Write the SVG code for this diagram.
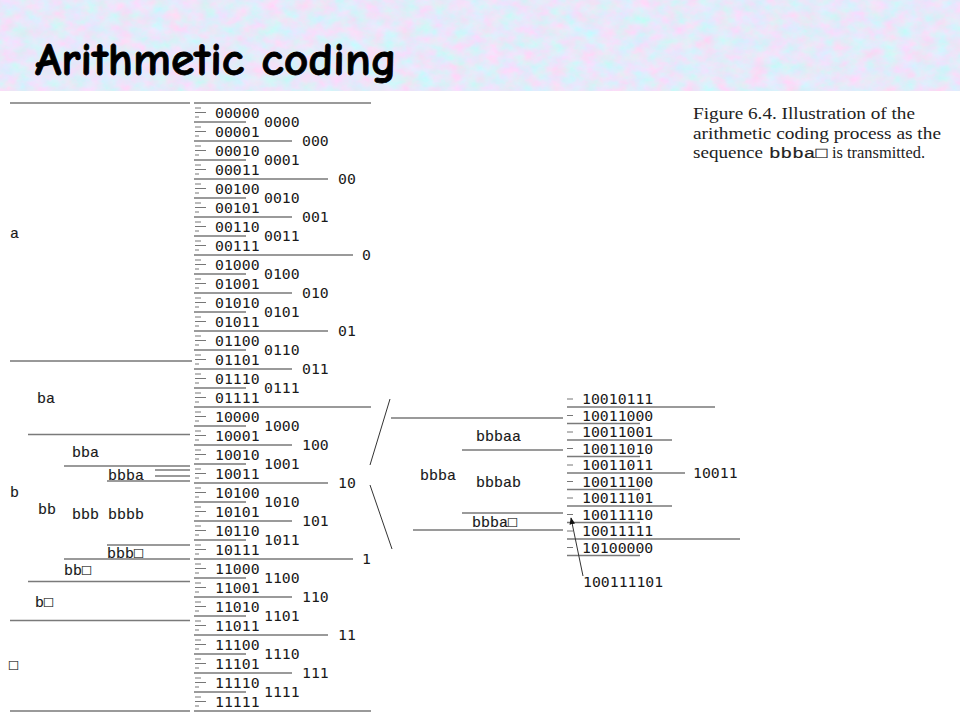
<svg xmlns="http://www.w3.org/2000/svg" xmlns:xlink="http://www.w3.org/1999/xlink" width="960" height="720" viewBox="0 0 960 720">
<style>
.ln{stroke:#7a7a7a;stroke-width:1.5;fill:none}
.dk{stroke:#333;stroke-width:1;fill:none}
.tk{stroke:#777;stroke-width:1;fill:none}
.d{font-family:"DejaVu Sans Mono",monospace;font-size:14.8px;fill:#1a1a1a}
.l{font-family:"Liberation Mono","DejaVu Sans Mono",monospace;font-size:15px;fill:#1a1a1a;stroke:#1a1a1a;stroke-width:0.15}
.cap{font-family:"Liberation Serif",serif;font-size:17px;fill:#222}
.capm{font-family:"Liberation Mono","DejaVu Sans Mono",monospace;font-size:15.5px;fill:#222;stroke:#222;stroke-width:0.2}
.title{font-family:"Comic Sans MS","Comic Neue","DejaVu Sans",sans-serif;font-weight:bold;font-size:46px;fill:#000;stroke:#000;stroke-width:0.8}
</style>
<defs>
<filter id="tex" x="0" y="0" width="100%" height="100%">
<feTurbulence type="fractalNoise" baseFrequency="0.06 0.08" numOctaves="4" seed="7"/>
<feColorMatrix type="matrix" values="0.6 0 0 0 0.49  -0.35 0.1 0 0 0.94  0 0 0.15 0 0.875  0 0 0 0 1"/>
</filter>
<path id="tk" d="M195 -4.5h6M195 0h11M195 4.5h4"/>
<marker id="ah" viewBox="0 0 10 10" refX="9" refY="5" markerWidth="7" markerHeight="7" orient="auto">
<path d="M0 1L10 5L0 9z" fill="#111"/>
</marker>
</defs>
<rect width="960" height="720" fill="#fff"/>
<g id="titlebar">
<rect width="960" height="91" fill="#c8d8f2"/>
<rect width="960" height="91" filter="url(#tex)"/>
<text class="title" x="35" y="75" textLength="362" lengthAdjust="spacingAndGlyphs">Arithmetic coding</text>
</g>
<g id="caption">
<text class="cap" x="693" y="119" textLength="222" lengthAdjust="spacingAndGlyphs">Figure 6.4. Illustration of the</text>
<text class="cap" x="693" y="139" textLength="248" lengthAdjust="spacingAndGlyphs">arithmetic coding process as the</text>
<text class="cap" x="693" y="158" textLength="70" lengthAdjust="spacingAndGlyphs">sequence</text>
<text class="capm" x="769" y="158" textLength="58" lengthAdjust="spacingAndGlyphs">bbba□</text>
<text class="cap" x="832" y="158" textLength="93" lengthAdjust="spacingAndGlyphs">is transmitted.</text>
</g>
<g id="left-intervals">
<path class="ln" d="M10 103H190M28 434.5H190M64 466H190M155 470H190M155 476H190M107 481H190M107 545H190M64 559H190M28 581.5H190M10 620.5H190M10 711H190"/>
<path class="dk" d="M10 361H192"/>
<text class="l" x="10" y="238">a</text>
<text class="l" x="37" y="403">ba</text>
<text class="l" x="72" y="456.5">bba</text>
<text class="l" x="108" y="480">bbba</text>
<text class="l" x="10" y="496.5">b</text>
<text class="l" x="38" y="514">bb</text>
<text class="l" x="72" y="519">bbb</text>
<text class="l" x="108" y="519">bbbb</text>
<text class="l" x="107" y="558">bbb□</text>
<text class="l" x="64" y="575">bb□</text>
<text class="l" x="35" y="606.5">b□</text>
<text class="l" x="9" y="670">□</text>
</g>
<g id="binary-column">
<g class="tk">
<use href="#tk" y="112.5"/><use href="#tk" y="131.5"/><use href="#tk" y="150.5"/><use href="#tk" y="169.5"/>
<use href="#tk" y="188.5"/><use href="#tk" y="207.5"/><use href="#tk" y="226.5"/><use href="#tk" y="245.5"/>
<use href="#tk" y="264.5"/><use href="#tk" y="283.5"/><use href="#tk" y="302.5"/><use href="#tk" y="321.5"/>
<use href="#tk" y="340.5"/><use href="#tk" y="359.5"/><use href="#tk" y="378.5"/><use href="#tk" y="397.5"/>
<use href="#tk" y="416.5"/><use href="#tk" y="435.5"/><use href="#tk" y="454.5"/><use href="#tk" y="473.5"/>
<use href="#tk" y="492.5"/><use href="#tk" y="511.5"/><use href="#tk" y="530.5"/><use href="#tk" y="549.5"/>
<use href="#tk" y="568.5"/><use href="#tk" y="587.5"/><use href="#tk" y="606.5"/><use href="#tk" y="625.5"/>
<use href="#tk" y="644.5"/><use href="#tk" y="663.5"/><use href="#tk" y="682.5"/><use href="#tk" y="701.5"/>
</g>
<path class="ln" d="M194 122H246M194 160H246M194 198H246M194 236H246M194 274H246M194 312H246M194 350H246M194 388H246M194 426H246M194 464H246M194 502H246M194 540H246M194 578H246M194 616H246M194 654H246M194 692H246"/>
<path class="ln" d="M194 141H292M194 217H292M194 293H292M194 369H292M194 445H292M194 521H292M194 597H292M194 673H292"/>
<path class="ln" d="M194 179H328M194 331H328M194 483H328M194 635H328"/>
<path class="ln" d="M194 255H353M194 559H353"/>
<path class="ln" d="M194 103H371M194 407H371M194 711H371"/>
<g class="d">
<text x="215" y="117.5">00000</text><text x="215" y="136.5">00001</text><text x="215" y="155.5">00010</text><text x="215" y="174.5">00011</text>
<text x="215" y="193.5">00100</text><text x="215" y="212.5">00101</text><text x="215" y="231.5">00110</text><text x="215" y="250.5">00111</text>
<text x="215" y="269.5">01000</text><text x="215" y="288.5">01001</text><text x="215" y="307.5">01010</text><text x="215" y="326.5">01011</text>
<text x="215" y="345.5">01100</text><text x="215" y="364.5">01101</text><text x="215" y="383.5">01110</text><text x="215" y="402.5">01111</text>
<text x="215" y="421.5">10000</text><text x="215" y="440.5">10001</text><text x="215" y="459.5">10010</text><text x="215" y="478.5">10011</text>
<text x="215" y="497.5">10100</text><text x="215" y="516.5">10101</text><text x="215" y="535.5">10110</text><text x="215" y="554.5">10111</text>
<text x="215" y="573.5">11000</text><text x="215" y="592.5">11001</text><text x="215" y="611.5">11010</text><text x="215" y="630.5">11011</text>
<text x="215" y="649.5">11100</text><text x="215" y="668.5">11101</text><text x="215" y="687.5">11110</text><text x="215" y="706.5">11111</text>
<text x="264" y="127.3">0000</text><text x="264" y="165.3">0001</text><text x="264" y="203.3">0010</text><text x="264" y="241.3">0011</text>
<text x="264" y="279.3">0100</text><text x="264" y="317.3">0101</text><text x="264" y="355.3">0110</text><text x="264" y="393.3">0111</text>
<text x="264" y="431.3">1000</text><text x="264" y="469.3">1001</text><text x="264" y="507.3">1010</text><text x="264" y="545.3">1011</text>
<text x="264" y="583.3">1100</text><text x="264" y="621.3">1101</text><text x="264" y="659.3">1110</text><text x="264" y="697.3">1111</text>
<text x="302" y="146.3">000</text><text x="302" y="222.3">001</text><text x="302" y="298.3">010</text><text x="302" y="374.3">011</text>
<text x="302" y="450.3">100</text><text x="302" y="526.3">101</text><text x="302" y="602.3">110</text><text x="302" y="678.3">111</text>
<text x="338" y="184.3">00</text><text x="338" y="336.3">01</text><text x="338" y="488.3">10</text><text x="338" y="640.3">11</text>
<text x="362" y="260.3">0</text><text x="362" y="564.3">1</text>
</g>
</g>
<g id="bbba-intervals">
<path class="ln" d="M391 418H563M462 450H563M462 513H563M413 530H563"/>
<text class="l" x="476" y="441">bbbaa</text>
<text class="l" x="420" y="480">bbba</text>
<text class="l" x="476" y="486.5">bbbab</text>
<text class="l" x="472" y="526.5">bbba□</text>
</g>
<g id="binary-column-8bit">
<path class="tk" d="M567 399h6M567 415.5h6M567 432h6M567 448.5h6M567 465h6M567 481.5h6M567 498h6M567 514.5h6M567 531h6M567 547.5h6"/>
<path class="ln" d="M567 407H715M567 423.5H640M567 440H672M567 456.5H640M567 473H685M567 489.5H640M567 506H672M567 522.5H640M567 539H740M567 555.5H640"/>
<g class="d">
<text x="582" y="404.3">10010111</text><text x="582" y="420.8">10011000</text><text x="582" y="437.3">10011001</text>
<text x="582" y="453.8">10011010</text><text x="582" y="470.3">10011011</text><text x="582" y="486.8">10011100</text>
<text x="582" y="503.3">10011101</text><text x="582" y="519.8">10011110</text><text x="582" y="536.3">10011111</text>
<text x="582" y="552.8">10100000</text>
<text x="693" y="478.3">10011</text>
<text x="583" y="586.5">100111101</text>
</g>
</g>
<g id="connectors">
<path class="dk" d="M390 399L370 465M370 485L392 549"/>
<path class="dk" d="M583 576L571 518" marker-end="url(#ah)"/>
</g>
</svg>
